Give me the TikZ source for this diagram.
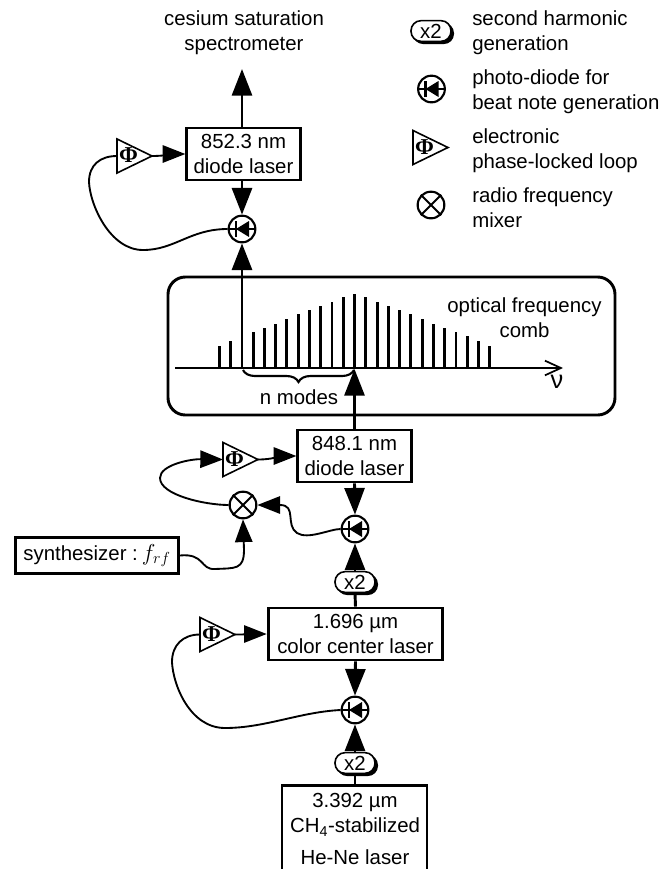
\documentclass[tikz,border=0pt]{standalone}
\usepackage{fontspec}
\setmainfont{Liberation Sans}
\newfontfamily\phifont{Liberation Serif}
\usetikzlibrary{arrows.meta,decorations.pathreplacing,calc}
\newcommand{\txt}{\fontsize{15.3}{18.75}\selectfont}
\newcommand{\PhiSym}{\phifont\fontsize{17}{17}\selectfont\bfseries Φ}
\tikzset{
  bl/.style={line width=2.2pt},
  bigtip/.style={-{Triangle[length=20pt,width=15pt]}},
  lasr/.style={draw,line width=2.2pt,align=center,font=\txt,inner sep=0pt,fill=white},
  wire/.style={line width=1.4pt},
  wiretip/.style={line width=1.4pt,-{Triangle[length=17pt,width=13pt]}},
  pll/.pic={
    \draw[line width=1.2pt,fill=white] (0,-17)--(0,17)--(35,0)--cycle;
    \node[inner sep=0pt] at (11.5,-.5) {\PhiSym};
  },
  labeltext/.style={font=\txt,align=left,anchor=west,inner sep=0pt},
  circ/.style={circle,draw,line width=1.6pt,minimum size=20pt,inner sep=0pt,fill=white},
}
\newcommand{\shgsym}[3]{% name, x, y
  \fill[black,rounded corners=7.5pt] (#2-18,#3-8) rectangle (#2+23,#3+13);
  \node[draw,line width=1.2pt,fill=white,rounded corners=7.5pt,minimum width=30pt,minimum height=15.5pt,inner sep=0pt,font=\txt] (#1) at (#2,#3) {x2};
}
\newcommand{\diodesym}[3]{% name, x, y
  \node[circ] (#1) at (#2,#3) {};
  \draw[line width=1.5pt] (#1.west)--(#1.east);
  \draw[line width=2pt] ($(#1)+(-6,-8)$)--($(#1)+(-6,8)$);
  \fill ($(#1)+(-6,0)$)--($(#1)+(7,8)$)--($(#1)+(7,-8)$)--cycle;
}
\newcommand{\mixersym}[3]{%
  \node[circ] (#1) at (#2,#3) {};
  \draw[line width=1.5pt] (#1.north west)--(#1.south east) (#1.north east)--(#1.south west);
}
\begin{document}
\begin{tikzpicture}[x=0.75pt,y=-0.75pt]
\useasboundingbox (0,0) rectangle (669,869);
% comb box
\node[draw,line width=2.2pt,rounded corners=13pt,minimum width=335.25pt,minimum height=103.5pt,inner sep=0pt] (comb) at (391.5,346) {};
% axis
\coordinate (axL) at (175,368);
\coordinate (axR) at (563,368);
\draw[line width=1.3pt,-{Straight Barb[length=12pt,width=11pt]}] (axL)--(axR);
\node[font=\fontsize{19}{19}\selectfont,inner sep=0pt] (nu) at (557,382) {ν};
\foreach \i/\t in {0/258,1/242,3/215,4/205,5/192,6/178,7/163,8/150,9/137,10/127,11/111,13/111,14/127,15/137,16/150,17/163,18/178,19/192,20/205,21/215,22/228,23/242,24/258}{
  \draw[line width=2.2pt] ({219.3+\i*11.27},368)--({219.3+\i*11.27},{260+\t/3});
}
\draw[line width=2.2pt] (354.5,368)--(354.5,293.5);
\node[font=\txt,align=center,inner sep=0pt] (combt) at (524.5,318) {optical frequency\\comb};
\coordinate (brL) at (243,370);
\coordinate (brR) at (354,370);
\draw[line width=1.6pt,decorate,decoration={brace,mirror,amplitude=9pt}] (brL)--(brR);
\node[font=\txt,inner sep=0pt] (nm) at (299,397) {n modes};
% top chain
\node[lasr,minimum width=85pt,minimum height=39pt] (l1) at (243.5,154) {852.3 nm\\diode laser};
\coordinate (specb) at (242,69);
\node[font=\txt,align=center,inner sep=0pt] (spec) at (244,33) {cesium saturation\\spectrometer};
\draw[bl,bigtip] (l1.north-|specb)--(specb);
\diodesym{d1}{242}{229}
\draw[bl,bigtip] (l1.south-|d1)--(d1.north);
\coordinate (c1) at (242,368);
\draw[bl,bigtip] (c1)--(d1.south);
\pic at (117,156) {pll};
\coordinate (p1i) at (117,156);
\coordinate (p1o) at (152,156);
\draw[wiretip] (p1o) to[out=0,in=180] (l1.west);
\draw[wire] (d1.west) .. controls (190,229) and (175,250) .. (143,250) .. controls (110,250) and (90,205) .. (89,182) .. controls (89,165) and (100,156) .. (p1i);
% middle chain
\node[lasr,minimum width=85pt,minimum height=39pt] (l2) at (354.5,456) {848.1 nm\\diode laser};
\coordinate (c2) at (354.5,369);
\draw[bl,bigtip] (l2.north)--(c2);
\diodesym{d2}{355}{529}
\draw[bl,bigtip] (l2.south)--(d2.north);
\mixersym{m}{243}{505}
\pic at (223,459.5) {pll};
\coordinate (p2i) at (223,459.5);
\coordinate (p2o) at (258,459.5);
\draw[wiretip] (p2o) to[out=0,in=180] (l2.west);
\draw[wire] (m.west) .. controls (205,505) and (160,495) .. (160,478);
\draw[wiretip] (160,478) .. controls (160,465) and (190,459) .. (p2i);
\draw[wiretip] (d2.west) .. controls (330,529) and (308,540) .. (297,533) .. controls (285,525) and (297,505) .. (280,505) -- (m.east);
\node[draw,line width=2.2pt,inner sep=0pt,minimum width=122pt,minimum height=27pt,font=\txt] (syn) at (97,555.5) {synthesizer :\hspace{3pt}\fontsize{17}{17}\selectfont$f_{rf}$};
\draw[wiretip] (syn.east) .. controls (205,553) and (200,570) .. (215,569) .. controls (235,568) and (244,570) .. (244,550) -- (m.south);
\shgsym{x1}{355}{582}
\draw[bl,bigtip] (x1.north)--(d2.south);
% lower chain
\node[lasr,minimum width=131pt,minimum height=39pt] (l3) at (355.5,634) {1.696 µm\\color center laser};
\draw[bl] (l3.north)--(x1.south);
\diodesym{d3}{355}{710}
\draw[bl,bigtip] (l3.south)--(d3.north);
\pic at (200,634.5) {pll};
\coordinate (p3i) at (200,634.5);
\coordinate (p3o) at (235,634.5);
\draw[wiretip] (p3o) to[out=0,in=180] (l3.west);
\draw[wire] (d3.west) .. controls (300,712) and (265,728) .. (225,728) .. controls (190,728) and (173,685) .. (172,662) .. controls (172,645) and (183,634.5) .. (p3i);
\shgsym{x2}{355}{763}
\draw[bl,bigtip] (x2.north)--(d3.south);
% bottom box
\coordinate (bl) at (282,869);
\coordinate (br) at (427,869);
\draw[line width=2.2pt] (bl)--(282,785.5)--(427,785.5)--(br);
\node[font=\txt,inner sep=0pt] (b1) at (355,802) {3.392 µm};
\node[font=\txt,inner sep=0pt] (b2) at (355,827) {CH\textsubscript{4}-stabilized};
\node[font=\txt,inner sep=0pt] (b3) at (355,857) {He-Ne laser};
\draw[bl] (x2.south)--(355,785.5);
% legend
\shgsym{lx}{431}{31}
\diodesym{ld}{431.5}{89}
\pic at (413,147.5) {pll};
\mixersym{lm}{431}{205}
\node[labeltext] (t1) at (472,32.5) {second harmonic\\generation};
\node[labeltext] (t2) at (472,91.5) {photo-diode for\\beat note generation};
\node[labeltext] (t3) at (472,150.5) {electronic\\phase-locked loop};
\node[labeltext] (t4) at (472,207.5) {radio frequency\\mixer};
\end{tikzpicture}
\end{document}
